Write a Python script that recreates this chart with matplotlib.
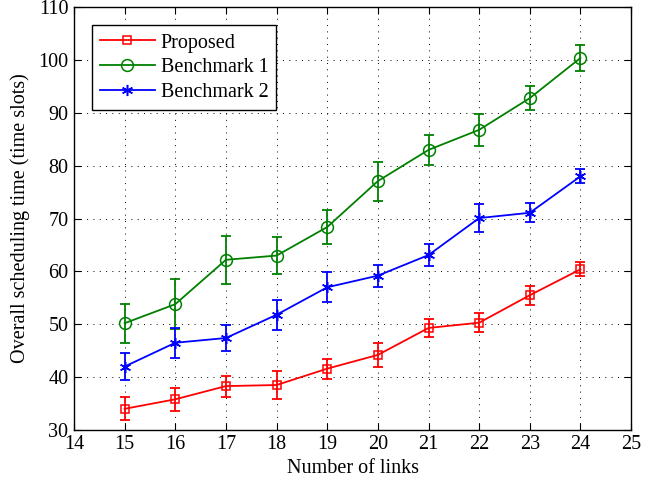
import numpy as np
import matplotlib.pyplot as plt

plt.rcParams['font.family'] = ['Liberation Serif', 'DejaVu Serif']

links = [15, 16, 17, 18, 19, 20, 21, 22, 23, 24]
proposed = [34.0, 35.8, 38.3, 38.5, 41.6, 44.2, 49.3, 50.3, 55.5, 60.4]
proposed_err = [2.2, 2.2, 2.0, 2.7, 1.9, 2.2, 1.7, 1.8, 1.8, 1.3]
bench1 = [50.2, 53.8, 62.2, 63.0, 68.4, 77.1, 83.0, 86.8, 92.8, 100.4]
bench1_err = [3.7, 4.7, 4.5, 3.5, 3.2, 3.7, 2.9, 3.0, 2.2, 2.4]
bench2 = [42.0, 46.5, 47.4, 51.8, 57.0, 59.2, 63.1, 70.1, 71.1, 78.0]
bench2_err = [2.5, 2.8, 2.5, 2.8, 2.8, 2.1, 2.1, 2.6, 1.8, 1.3]

fig = plt.figure(figsize=(6.57, 4.82), dpi=100)
ax = fig.add_axes([0.1126, 0.108, 0.848, 0.877])

series = [
    (proposed, proposed_err, '#ff0000', 's', 6, 'Proposed'),
    (bench1, bench1_err, '#008000', 'o', 8.5, 'Benchmark 1'),
    (bench2, bench2_err, '#0000ff', (6, 2, 0), 8, 'Benchmark 2'),
]
for y, e, c, m, s, lab in series:
    ax.errorbar(links, y, yerr=e, fmt='none', ecolor=c, capsize=3.8, elinewidth=1.3, capthick=1.3)
    ax.plot(links, y, color=c, marker=m, ms=s, mfc='none', mew=1.1, lw=1.3, label=lab)

ax.set_xlim(14, 25)
ax.set_ylim(30, 110)
ax.set_xticks(range(14, 26))
ax.set_yticks(range(30, 111, 10))
ax.tick_params(direction='in', labelsize=14.5, top=True, right=True, length=5, pad=4)
ax.grid(True, linestyle=(0, (1, 5.5)), color='black', lw=0.7)
for sp in ax.spines.values():
    sp.set_linewidth(1.0)
ax.set_xlabel('Number of links', fontsize=14.5, labelpad=3)
ax.set_ylabel('Overall scheduling time (time slots)', fontsize=14.5, labelpad=6)

leg = ax.legend(loc='upper left', fontsize=14.5, fancybox=False, edgecolor='black',
                framealpha=1, borderaxespad=0.9, handlelength=2.7, handletextpad=0.3,
                labelspacing=0.28, borderpad=0.4, numpoints=1)
leg.get_frame().set_linewidth(1.0)

fig.savefig('out.png', dpi=100)
